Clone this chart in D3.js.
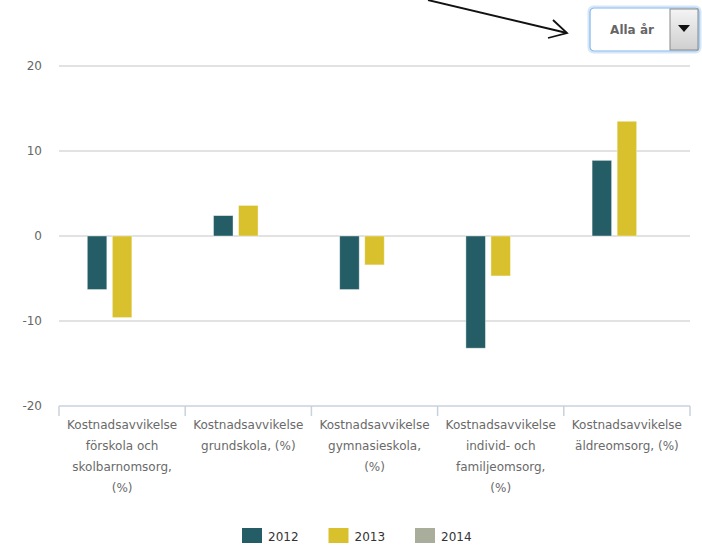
<!DOCTYPE html>
<html>
<head>
<meta charset="utf-8">
<script src="https://cdn.jsdelivr.net/npm/d3@7"></script>
<style>
  body { margin: 0; background: #fff; }
  svg { display: block; }
  .tick-label { font-family: 'DejaVu Sans', sans-serif; font-size: 12px; fill: #666; }
  .cat-label { font-family: 'DejaVu Sans', sans-serif; font-size: 12px; fill: #6a6a6a; }
  .legend-label { font-family: 'DejaVu Sans', sans-serif; font-size: 12px; fill: #333; }
</style>
</head>
<body>
<svg id="chart" width="702" height="546"></svg>
<script>
const categories = ['förskola', 'grundskola', 'gymnasieskola', 'ifo', 'aldreomsorg'];
const categoryLines = [
    ['Kostnadsavvikelse', 'förskola och', 'skolbarnomsorg,', '(%)'],
    ['Kostnadsavvikelse', 'grundskola, (%)'],
    ['Kostnadsavvikelse', 'gymnasieskola,', '(%)'],
    ['Kostnadsavvikelse', 'individ- och', 'familjeomsorg,', '(%)'],
    ['Kostnadsavvikelse', 'äldreomsorg, (%)']
];
const years = ['2012', '2013', '2014'];
const values2012 = [-6.3, 2.4, -6.3, -13.2, 8.9];
const values2013 = [-9.6, 3.6, -3.4, -4.7, 13.5];
const values2014 = [null, null, null, null, null];
const yTicks = [-20, -10, 0, 10, 20];
const colors = ['#245d65', '#d8c12d', '#a9ad9b'];

const svg = d3.select('#chart');
const margin = { top: 66, bottom: 140, left: 59, right: 12 };
const width = 702, height = 546;

const series = [values2012, values2013, values2014];
const data = [];
categories.forEach((c, i) => {
    years.forEach((y, j) => {
        if (series[j][i] != null) data.push({ cat: c, year: y, value: series[j][i] });
    });
});

const xScale = d3.scaleBand()
    .domain(categories)
    .range([margin.left, width - margin.right]);
const xInner = d3.scaleBand()
    .domain(years)
    .range([0, xScale.bandwidth()])
    .paddingInner(0.22)
    .paddingOuter(1.13);
const yScale = d3.scaleLinear()
    .domain([-20, 20])
    .range([height - margin.bottom, margin.top]);
const color = d3.scaleOrdinal().domain(years).range(colors);

// gridlines
svg.append('g')
    .selectAll('line')
    .data(yTicks.filter(d => d !== -20))
    .enter()
    .append('line')
    .attr('x1', margin.left)
    .attr('x2', width - margin.right)
    .attr('y1', d => yScale(d))
    .attr('y2', d => yScale(d))
    .attr('stroke', '#d8d8d8')
    .attr('stroke-width', 1.5);

// y labels
svg.append('g')
    .selectAll('text')
    .data(yTicks)
    .enter()
    .append('text')
    .attr('class', 'tick-label')
    .attr('text-anchor', 'end')
    .attr('x', 42)
    .attr('y', d => yScale(d) + 4)
    .text(d => d < 0 ? '-' + Math.abs(d) : d);

// bars
svg.append('g')
    .selectAll('rect')
    .data(data)
    .enter()
    .append('rect')
    .attr('x', d => xScale(d.cat) + xInner(d.year))
    .attr('width', xInner.bandwidth())
    .attr('y', d => yScale(Math.max(0, d.value)))
    .attr('height', d => Math.abs(yScale(d.value) - yScale(0)))
    .attr('fill', d => color(d.year))
    .attr('stroke', '#ffffff')
    .attr('stroke-opacity', 0.5)
    .attr('stroke-width', 0.8);

// x axis at bottom
const xAxis = svg.append('g')
    .attr('transform', 'translate(0,' + yScale(-20) + ')');
xAxis.append('line')
    .attr('x1', margin.left).attr('x2', width - margin.right)
    .attr('stroke', '#c8d2dc').attr('stroke-width', 1.5);
const boundaries = categories.map(c => xScale(c)).concat([xScale.range()[1]]);
xAxis.selectAll('.tk')
    .data(boundaries)
    .enter()
    .append('line')
    .attr('x1', d => d).attr('x2', d => d)
    .attr('y1', 0).attr('y2', 10)
    .attr('stroke', '#c8d2dc').attr('stroke-width', 1.5);

const labels = xAxis.selectAll('.cat-label')
    .data(categories)
    .enter()
    .append('text')
    .attr('class', 'cat-label')
    .attr('text-anchor', 'middle')
    .attr('transform', d => 'translate(' + (xScale(d) + xScale.bandwidth() / 2) + ',23)');
labels.selectAll('tspan')
    .data((d, i) => categoryLines[i])
    .enter()
    .append('tspan')
    .attr('x', 0)
    .attr('y', (d, i) => i * 21)
    .text(d => d);

// legend
const legend = svg.append('g').attr('transform', 'translate(242,528)');
const li = legend.selectAll('g')
    .data(years)
    .enter()
    .append('g')
    .attr('transform', (d, i) => 'translate(' + (i * 86.5) + ',0)');
li.append('rect')
    .attr('width', 20).attr('height', 15)
    .attr('fill', d => color(d));
li.append('text')
    .attr('class', 'legend-label')
    .attr('x', 26)
    .attr('y', 13)
    .text(d => d);

// dropdown "Alla år"
const defs = svg.append('defs');
const grad = defs.append('linearGradient')
    .attr('id', 'btnGrad').attr('x1', 0).attr('y1', 0).attr('x2', 0).attr('y2', 1);
grad.append('stop').attr('offset', '0%').attr('stop-color', '#f4f4f4');
grad.append('stop').attr('offset', '100%').attr('stop-color', '#cfcfcf');

const dd = svg.append('g').attr('transform', 'translate(590,8)');
dd.append('rect')
    .attr('x', -1.5).attr('y', -1.5).attr('width', 112).attr('height', 46).attr('rx', 5)
    .attr('fill', 'none').attr('stroke', '#d4e6f8').attr('stroke-width', 2);
dd.append('rect')
    .attr('width', 109).attr('height', 43).attr('rx', 4)
    .attr('fill', '#fff').attr('stroke', '#80b5ea').attr('stroke-width', 1.2);
dd.append('rect')
    .attr('x', 80).attr('y', 1).attr('width', 28).attr('height', 41)
    .attr('fill', 'url(#btnGrad)').attr('stroke', '#8a8a8a').attr('stroke-width', 1);
dd.append('path')
    .attr('d', 'M88,17 L100,17 L94,24 Z')
    .attr('fill', '#111');
dd.append('text')
    .attr('x', 42).attr('y', 26)
    .attr('text-anchor', 'middle')
    .attr('font-family', 'DejaVu Sans, sans-serif')
    .attr('font-size', '12px')
    .attr('font-weight', 'bold')
    .attr('fill', '#666')
    .text('Alla år');

// annotation arrow
const arrow = svg.append('g')
    .attr('stroke', '#111').attr('stroke-width', 1.8).attr('fill', 'none');
arrow.append('line').attr('x1', 428).attr('y1', 0).attr('x2', 567).attr('y2', 33);
arrow.append('path').attr('d', 'M553,20 L567,33 L548,38');
</script>
</body>
</html>
